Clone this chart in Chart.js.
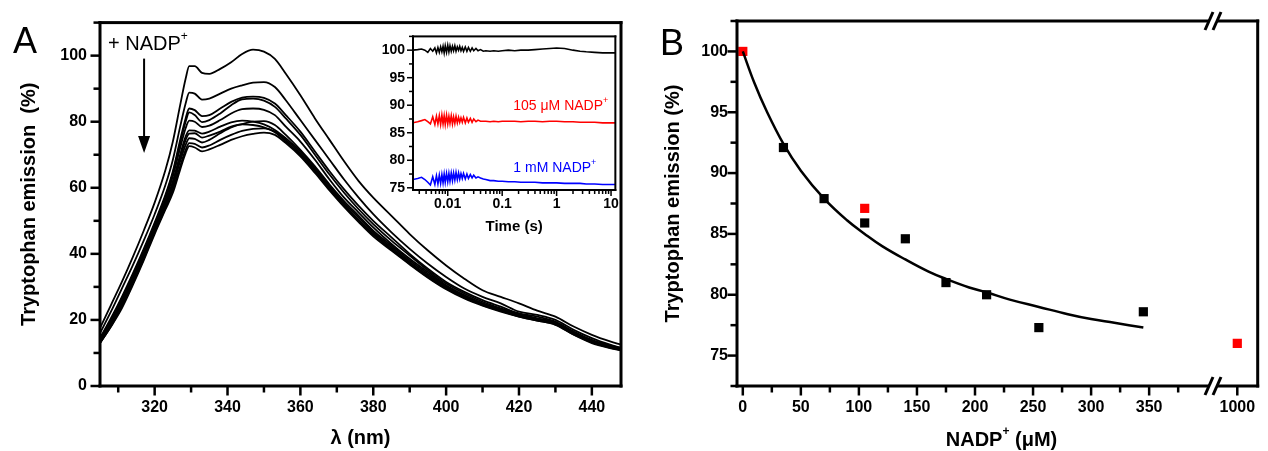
<!DOCTYPE html>
<html>
<head>
<meta charset="utf-8">
<script src="https://cdn.jsdelivr.net/npm/chart.js@4.4.1/dist/chart.umd.min.js"></script>
<style>
  html, body { margin: 0; padding: 0; background: #fff; }
  #wrap { position: relative; width: 1268px; height: 451px; overflow: hidden; background: #fff; }
  canvas { position: absolute; }
  #cA { left: 0; top: 0; }
  #cIn { left: 360px; top: 20px; }
  #cB { left: 634px; top: 0; }
  #cB2 { left: 1180px; top: 0; }
</style>
</head>
<body>
<div id="wrap">
  <canvas id="cA" width="634" height="451"></canvas>
  <canvas id="cIn" width="265" height="220"></canvas>
  <canvas id="cB" width="634" height="451"></canvas>
  <canvas id="cB2" width="88" height="451"></canvas>
</div>
<script>
// ---- panel A : emission spectra during NADP+ titration ----
const wavelength = [305, 308, 311, 314, 317, 320, 323, 325, 327, 328.5, 329.5, 331, 333, 335, 338, 341, 344, 347, 350, 353,
  356, 360, 364, 368, 372, 376, 380, 385, 390, 395, 400, 405, 410, 415, 420, 425, 430, 435, 440, 445, 448];

const spec1 = [17.5, 24.5, 31.5, 39, 47, 55.5, 65.5, 74, 85, 93, 96.8, 96.8, 94.8, 94.5, 96, 98, 100.5, 101.8, 101.2, 99,
  94.5, 88, 81, 74.5, 68, 62, 57, 51.5, 46, 41, 36.5, 32.5, 29, 27, 25, 22.8, 21, 18, 15.5, 13.5, 12.5];
const spec2 = [16, 22.5, 29.5, 36.5, 44, 52, 61, 68.5, 78.5, 85.5, 88.8, 88.5, 86.7, 87, 88.5, 90, 91, 91.8, 92, 90.5,
  86.5, 80.5, 74.5, 68.5, 62.5, 57, 52, 46.5, 41.5, 37, 33, 29.5, 27, 25, 22.5, 21.5, 20, 17, 14.5, 12.5, 11.5];
const spec3 = [14.5, 20.5, 27, 34, 41.5, 49.5, 58, 65, 74.5, 81, 84, 83.5, 81.7, 82, 84, 86, 87.3, 87.6, 87.2, 85.5,
  82, 77, 71, 65, 59.5, 54.5, 50, 45, 40, 35.5, 31.5, 28.5, 26, 24, 22, 21, 19.5, 16.5, 14, 12.3, 11.5];
const spec4 = [14, 20, 26.5, 33.5, 41, 49, 57.5, 64.5, 73.5, 80, 82.8, 82, 79.9, 80.5, 82.5, 85, 86.8, 87, 86.4, 84.5,
  81, 76, 70, 64, 58.5, 53.5, 49, 44, 39.5, 35, 31, 28, 25.5, 23.5, 21.8, 20.5, 19.2, 16.2, 13.8, 12, 11.2];
const spec5 = [14, 19.5, 26, 33, 40.5, 48.5, 56.5, 63.5, 72, 78, 80.3, 80, 78.4, 78.8, 80.5, 82.5, 83.8, 84, 83.6, 82,
  78.5, 74, 68.5, 62.5, 57, 52.5, 48, 43, 38.5, 34.5, 30.5, 27.5, 25, 23.2, 21.5, 20.3, 19, 16, 13.6, 12, 11];
const spec6 = [13.5, 19, 25.5, 32.5, 40, 48, 55.5, 62, 70, 75.5, 77.4, 77.3, 76.4, 77, 78.5, 79.8, 80.3, 80, 79.2, 77.5,
  75, 71, 66, 60.5, 55.5, 51, 46.5, 42, 37.5, 33.5, 30, 27, 24.8, 23, 21.3, 20, 18.8, 15.8, 13.4, 11.8, 11];
const spec7 = [13.5, 19, 25, 32, 39.5, 47.5, 55, 61.5, 69, 74.5, 76.4, 76.5, 75.2, 75.8, 77, 78.5, 79.3, 80, 80.2, 79,
  76, 71.5, 66.5, 61, 56, 51.5, 47, 42.5, 38, 34, 30.3, 27.3, 25, 23.2, 21.5, 20.2, 19, 16, 13.5, 12, 11.2];
const spec8 = [13, 18.5, 24.5, 31.5, 39, 47, 54.5, 60.5, 68, 73, 75, 74.8, 73.7, 74.5, 76.5, 78.3, 79.2, 79, 78.3, 76.8,
  74, 70, 65, 59.5, 54.5, 50, 45.8, 41.3, 37, 33, 29.5, 26.7, 24.5, 22.7, 21, 19.8, 18.6, 15.6, 13.2, 11.6, 10.8];
const spec9 = [13, 18, 24, 31, 38.5, 46.5, 54, 59.5, 66.5, 71.5, 73.5, 73.3, 72.2, 72.8, 74.5, 76, 77.2, 77.8, 78, 77,
  74.5, 70.5, 65.5, 60, 55, 50.3, 46, 41.5, 37.2, 33.2, 29.7, 26.8, 24.6, 22.8, 21.2, 20, 18.8, 15.8, 13.3, 11.7, 11];
const spec10 = [13, 18, 23.5, 30.5, 38, 46, 53.5, 58.5, 65.5, 70.5, 72.6, 72.2, 71, 71.6, 73, 74.5, 75.6, 76.3, 76.7, 76,
  73.5, 69.5, 64.5, 59.2, 54.2, 49.6, 45.3, 41, 36.8, 32.8, 29.3, 26.5, 24.3, 22.5, 21, 19.8, 18.5, 15.5, 13, 11.5, 10.8];
const spectra = [spec1, spec2, spec3, spec4, spec5, spec6, spec7, spec8, spec9, spec10];

const xTicksA = [320, 340, 360, 380, 400, 420, 440];
const xMinorA = [310, 330, 350, 370, 390, 410, 430];
const yTicksA = [0, 20, 40, 60, 80, 100];
const yMinorA = [10, 30, 50, 70, 90, 110];

// ---- inset : stopped-flow traces ----
const timeS = [0.0023, 0.0028, 0.0033, 0.0038, 0.0043, 0.0048, 0.0053, 0.0058, 0.0062, 0.0066,
  0.007, 0.0074, 0.0078, 0.0082, 0.0086, 0.009, 0.0095, 0.01, 0.0105, 0.011,
  0.0116, 0.0122, 0.0128, 0.0135, 0.0142, 0.015, 0.0158, 0.0166, 0.0175, 0.0185,
  0.0195, 0.021, 0.0225, 0.024, 0.026, 0.028, 0.03, 0.033, 0.036, 0.04,
  0.045, 0.05, 0.06, 0.07, 0.085, 0.1, 0.13, 0.17, 0.22, 0.3,
  0.4, 0.55, 0.75, 1, 1.4, 2, 2.7, 3.5, 5, 7, 10, 12];
const traceNone = [100.0, 100.1, 100.2, 100.0, 99.6, 100.3, 99.8, 100.4, 99.5, 100.5,
  99.6, 100.6, 99.7, 100.7, 99.5, 100.8, 99.6, 100.9, 99.7, 100.8,
  99.8, 100.7, 99.9, 100.8, 99.8, 100.6, 100.0, 100.7, 99.9, 100.5,
  99.8, 100.6, 99.8, 100.5, 99.8, 100.4, 99.9, 100.3, 99.9, 100.1,
  99.8, 99.9, 99.8, 99.9, 99.8, 99.9, 100.0, 99.9, 100.0, 100.0,
  100.1, 100.2, 100.3, 100.4, 100.3, 100.0, 99.8, 99.7, 99.6, 99.5, 99.5, 99.5];
const trace105 = [86.8, 87.0, 87.2, 87.4, 87.0, 86.6, 87.9, 86.5, 88.0, 86.6,
  88.1, 86.5, 88.2, 86.6, 88.1, 86.5, 88.2, 86.6, 88.0, 86.7,
  88.1, 86.6, 87.9, 86.7, 88.0, 86.8, 87.8, 86.9, 87.7, 86.9,
  87.8, 86.8, 87.7, 86.9, 87.6, 86.9, 87.5, 87.0, 87.3, 87.1,
  87.1, 87.1, 87.0, 87.1, 87.0, 87.1, 87.1, 87.1, 87.0, 87.1,
  87.1, 87.0, 87.1, 87.1, 87.0, 87.0, 86.9, 86.9, 86.9, 86.8, 86.8, 86.8];
const trace1mM = [76.5, 76.7, 76.9, 76.5, 76.0, 75.5, 77.0, 75.6, 77.2, 75.7,
  77.3, 75.8, 77.4, 75.9, 77.5, 76.0, 77.6, 76.1, 77.6, 76.2,
  77.7, 76.3, 77.7, 76.4, 77.8, 76.5, 77.7, 76.6, 77.6, 76.7,
  77.6, 76.6, 77.5, 76.7, 77.4, 76.8, 77.3, 76.8, 77.0, 76.8,
  76.6, 76.5, 76.3, 76.3, 76.2, 76.2, 76.1, 76.1, 76.0, 76.0,
  76.0, 75.9, 75.9, 75.9, 75.8, 75.8, 75.8, 75.7, 75.7, 75.6, 75.6, 75.6];
const xTicksIn = [0.01, 0.1, 1, 10];
const xMinorIn = [0.003, 0.004, 0.005, 0.006, 0.007, 0.008, 0.009, 0.02, 0.03, 0.04, 0.05, 0.06, 0.07, 0.08, 0.09,
  0.2, 0.3, 0.4, 0.5, 0.6, 0.7, 0.8, 0.9, 2, 3, 4, 5, 6, 7, 8, 9];
const yTicksIn = [75, 80, 85, 90, 95, 100];
const yMinorIn = [77.5, 82.5, 87.5, 92.5, 97.5, 102.5];

// ---- panel B : titration ----
const nadpConc = [35, 70, 105, 140, 175, 210, 255, 345];
const emission = [92.1, 87.9, 85.9, 84.6, 81.0, 80.0, 77.3, 78.6];
const refConc = [0, 105, 1000];
const refEmission = [100.0, 87.1, 76.0];
const fitConc = [0, 10, 20, 35, 50, 70, 90, 105, 120, 140, 160, 175, 195, 210, 230, 255, 280, 300, 320, 345];
const fitEmission = [100, 97.4, 95.2, 92.4, 90.2, 87.9, 86.1, 85.0, 84.0, 82.9, 81.9, 81.3, 80.6, 80.2, 79.6, 79.0, 78.4, 78.0, 77.7, 77.3];
const xTicksB = [0, 50, 100, 150, 200, 250, 300, 350];
const xMinorB = [25, 75, 125, 175, 225, 275, 325, 375];
const xTicksBreak = [1000];
const yTicksB = [75, 80, 85, 90, 95, 100];
const yMinorB = [72.5, 77.5, 82.5, 87.5, 92.5, 97.5, 102.5];

const FONT = '"Liberation Sans", Arial, Helvetica, sans-serif';
Chart.defaults.font.family = FONT;
Chart.defaults.color = '#000';
Chart.defaults.animation = false;

function pts(xs, ys) { return xs.map((x, i) => ({ x: x, y: ys[i] })); }

// text with a raised part, e.g. NADP + superscript
function richText(ctx, parts, x, y, size, weight, align, color) {
  ctx.save();
  ctx.fillStyle = color || '#000';
  ctx.textBaseline = 'middle';
  ctx.textAlign = 'left';
  const fontFor = sup => `${weight} ${sup ? Math.round(size * 0.62) : size}px ${FONT}`;
  let total = 0;
  for (const [t, sup] of parts) { ctx.font = fontFor(sup); total += ctx.measureText(t).width; }
  let cx = align === 'center' ? x - total / 2 : align === 'right' ? x - total : x;
  for (const [t, sup] of parts) {
    ctx.font = fontFor(sup);
    ctx.fillText(t, cx, sup ? y - size * 0.4 : y);
    cx += ctx.measureText(t).width;
  }
  ctx.restore();
}

// box frame round the plot area (optionally open on one side) and outward tick marks
function frame(cfg) {
  return {
    id: 'frame',
    beforeDatasetsDraw(chart) {
      if (!cfg.fillArea) return;
      const a = chart.chartArea;
      chart.ctx.save();
      chart.ctx.fillStyle = '#fff';
      chart.ctx.fillRect(a.left, a.top, a.right - a.left, a.bottom - a.top);
      chart.ctx.restore();
    },
    afterDraw(chart) {
      const { ctx, chartArea: a } = chart;
      const w = cfg.width;
      ctx.save();
      ctx.fillStyle = '#000';
      const L = a.left - w / 2, R = a.right - w / 2, T = a.top - w / 2, B = a.bottom - w / 2;
      ctx.fillRect(L, T, R - L + w, w);               // top
      ctx.fillRect(L, B, R - L + w, w);               // bottom
      if (cfg.open !== 'left') ctx.fillRect(L, T, w, B - T + w);
      if (cfg.open !== 'right') ctx.fillRect(R, T, w, B - T + w);
      const tw = cfg.tickWidth;
      (cfg.marks || []).forEach(m => {
        const s = chart.scales[m.id];
        const len = m.minor ? cfg.minorLen : cfg.majorLen;
        m.values.forEach(v => {
          const p = s.getPixelForValue(v);
          if (s.isHorizontal()) ctx.fillRect(p - tw / 2, a.bottom, tw, len + w / 2);
          else ctx.fillRect(a.left - len - w / 2, p - tw / 2, len + w / 2, tw);
        });
      });
      ctx.restore();
    }
  };
}

function fixedTicks(list) { return s => { s.ticks = list.map(v => ({ value: v })); }; }
const tickFont = size => ({ size: size, weight: 'bold' });
const plainLabel = v => String(v);
const hiddenGrid = { display: false, drawTicks: false };

// ---------- panel A ----------
const notesA = {
  id: 'notesA',
  afterDraw(chart) {
    const { ctx, scales: { x, y } } = chart;
    ctx.save();
    ctx.fillStyle = '#000';
    ctx.font = `36px ${FONT}`;
    ctx.textBaseline = 'alphabetic';
    ctx.fillText('A', 13, 53);
    richText(ctx, [['+ NADP', false], ['+', true]], x.getPixelForValue(307.2), y.getPixelForValue(103.3), 20, 'normal', 'left');
    const ax = x.getPixelForValue(317.1);
    const y0 = y.getPixelForValue(99.1);
    const y1 = y.getPixelForValue(70.5);
    ctx.fillRect(ax - 1, y0, 2, y1 - 14 - y0);
    ctx.beginPath(); ctx.moveTo(ax - 6, y1 - 17); ctx.lineTo(ax + 6, y1 - 17); ctx.lineTo(ax, y1); ctx.closePath(); ctx.fill();
    ctx.restore();
  }
};

new Chart(document.getElementById('cA'), {
  type: 'scatter',
  data: {
    datasets: spectra.map(s => ({
      data: pts(wavelength, s), showLine: true, borderColor: '#000', borderWidth: 1.8,
      pointRadius: 0, cubicInterpolationMode: 'monotone', fill: false
    }))
  },
  options: {
    responsive: false, animation: false,
    layout: { autoPadding: false, padding: { left: 0, right: 13, top: 21, bottom: 0 } },
    plugins: { legend: { display: false }, tooltip: { enabled: false } },
    scales: {
      x: {
        type: 'linear', min: 305, max: 448,
        afterFit: s => { s.height = 65; }, afterBuildTicks: fixedTicks(xTicksA),
        grid: hiddenGrid, border: { display: false },
        ticks: { padding: 12, font: tickFont(16), maxRotation: 0, autoSkip: false, callback: plainLabel },
        title: { display: true, text: 'λ (nm)', font: { size: 20, weight: 'bold' }, padding: { top: 0, bottom: 1 } }
      },
      y: {
        min: 0, max: 110,
        afterFit: s => { s.width = 100; }, afterBuildTicks: fixedTicks(yTicksA),
        grid: hiddenGrid, border: { display: false },
        ticks: { padding: 13, font: tickFont(16), autoSkip: false, callback: plainLabel },
        title: { display: true, text: 'Tryptophan emission  (%)', font: { size: 20, weight: 'bold' }, padding: { top: 17, bottom: 0 } }
      }
    }
  },
  plugins: [frame({ width: 3, tickWidth: 2.5, majorLen: 8, minorLen: 5, marks: [
    { id: 'x', values: xTicksA }, { id: 'x', values: xMinorA, minor: true },
    { id: 'y', values: yTicksA }, { id: 'y', values: yMinorA, minor: true }] }), notesA]
});

// ---------- inset ----------
const notesIn = {
  id: 'notesIn',
  afterDraw(chart) {
    const { ctx, scales: { x, y } } = chart;
    richText(ctx, [['105 μM NADP', false], ['+', true]], x.getPixelForValue(0.16), y.getPixelForValue(89.8), 14, 'normal', 'left', '#ff0000');
    richText(ctx, [['1 mM NADP', false], ['+', true]], x.getPixelForValue(0.16), y.getPixelForValue(78.6), 14, 'normal', 'left', '#0000ff');
  }
};

const traceStyle = c => ({ showLine: true, borderColor: c, borderWidth: 1.6, pointRadius: 0, tension: 0, fill: false });

new Chart(document.getElementById('cIn'), {
  type: 'scatter',
  data: {
    datasets: [
      Object.assign({ data: pts(timeS, traceNone) }, traceStyle('#000000')),
      Object.assign({ data: pts(timeS, trace105) }, traceStyle('#ff0000')),
      Object.assign({ data: pts(timeS, trace1mM) }, traceStyle('#0000ff'))
    ]
  },
  options: {
    responsive: false, animation: false,
    layout: { autoPadding: false, padding: { left: 0, right: 8, top: 14, bottom: 0 } },
    plugins: { legend: { display: false }, tooltip: { enabled: false } },
    scales: {
      x: {
        type: 'logarithmic', min: 0.0023, max: 12,
        afterFit: s => { s.height = 50; }, afterBuildTicks: fixedTicks(xTicksIn),
        grid: hiddenGrid, border: { display: false },
        ticks: { padding: 6, font: tickFont(14), maxRotation: 0, autoSkip: false, callback: plainLabel },
        title: { display: true, text: 'Time (s)', font: { size: 15, weight: 'bold' }, padding: { top: 0, bottom: 4 } }
      },
      y: {
        min: 74.6, max: 102.5,
        afterFit: s => { s.width = 53; }, afterBuildTicks: fixedTicks(yTicksIn),
        grid: hiddenGrid, border: { display: false },
        ticks: { padding: 8, font: tickFont(14), autoSkip: false, callback: plainLabel }
      }
    }
  },
  plugins: [frame({ width: 2, tickWidth: 1.5, majorLen: 5, minorLen: 3, fillArea: true, marks: [
    { id: 'x', values: xTicksIn }, { id: 'x', values: xMinorIn, minor: true },
    { id: 'y', values: yTicksIn }, { id: 'y', values: yMinorIn, minor: true }] }), notesIn]
});

// ---------- panel B, main segment (0 - 405 µM) ----------
const notesB = {
  id: 'notesB',
  afterDraw(chart) {
    const { ctx, chartArea: a } = chart;
    ctx.save();
    ctx.fillStyle = '#000';
    ctx.font = `36px ${FONT}`;
    ctx.textBaseline = 'alphabetic';
    ctx.fillText('B', 26, 55);
    ctx.restore();
    // title centred under the whole (broken) axis
    richText(ctx, [['NADP', false], ['+', true], [' (μM)', false]], (a.left + chart.width - 2) / 2, 440, 20, 'bold', 'center');
  }
};

const squares = c => ({ pointStyle: 'rect', pointRadius: 6.5, pointBackgroundColor: c, pointBorderColor: c, pointBorderWidth: 0, showLine: false });
const refPoints = pts(refConc, refEmission);

new Chart(document.getElementById('cB'), {
  type: 'scatter',
  data: {
    datasets: [
      { data: pts(fitConc, fitEmission), showLine: true, borderColor: '#000', borderWidth: 2.5, pointRadius: 0, tension: 0.4, fill: false },
      Object.assign({ data: pts(nadpConc, emission) }, squares('#000000')),
      Object.assign({ data: refPoints.filter(p => p.x < 500) }, squares('#ff0000'))
    ]
  },
  options: {
    responsive: false, animation: false,
    layout: { autoPadding: false, padding: { left: 0, right: 55, top: 21, bottom: 0 } },
    plugins: { legend: { display: false }, tooltip: { enabled: false } },
    scales: {
      x: {
        type: 'linear', min: -5, max: 405,
        afterFit: s => { s.height = 65; }, afterBuildTicks: fixedTicks(xTicksB),
        grid: hiddenGrid, border: { display: false },
        ticks: { padding: 12, font: tickFont(16), maxRotation: 0, autoSkip: false, callback: plainLabel }
      },
      y: {
        min: 72.5, max: 102.5,
        afterFit: s => { s.width = 103; }, afterBuildTicks: fixedTicks(yTicksB),
        grid: hiddenGrid, border: { display: false },
        ticks: { padding: 9, font: tickFont(16), autoSkip: false, callback: plainLabel },
        title: { display: true, text: 'Tryptophan emission (%)', font: { size: 20, weight: 'bold' }, padding: { top: 27, bottom: 0 } }
      }
    }
  },
  plugins: [frame({ width: 3, tickWidth: 2.5, majorLen: 8, minorLen: 5, open: 'right', marks: [
    { id: 'x', values: xTicksB }, { id: 'x', values: xMinorB, minor: true },
    { id: 'y', values: yTicksB }, { id: 'y', values: yMinorB, minor: true }] }), notesB]
});

// ---------- panel B, segment after the axis break (1000 µM) ----------
const breakMarks = {
  id: 'breakMarks',
  afterDraw(chart) {
    const { ctx, chartArea: a } = chart;
    const xb = a.left;
    ctx.save();
    ctx.fillStyle = '#fff';
    ctx.fillRect(xb - 4, a.top - 3, 8, 6);
    ctx.fillRect(xb - 4, a.bottom - 3, 8, 6);
    ctx.strokeStyle = '#000';
    ctx.lineWidth = 3;
    [a.top, a.bottom].forEach(yy => {
      [-4, 4].forEach(dx => {
        ctx.beginPath();
        ctx.moveTo(xb + dx - 4, yy + 9);
        ctx.lineTo(xb + dx + 4, yy - 9);
        ctx.stroke();
      });
    });
    ctx.restore();
  }
};

new Chart(document.getElementById('cB2'), {
  type: 'scatter',
  data: {
    datasets: [Object.assign({ data: refPoints.filter(p => p.x >= 500) }, squares('#ff0000'))]
  },
  options: {
    responsive: false, animation: false,
    layout: { autoPadding: false, padding: { left: 33, right: 2, top: 21, bottom: 0 } },
    plugins: { legend: { display: false }, tooltip: { enabled: false } },
    scales: {
      x: {
        type: 'linear', min: 975, max: 1021,
        afterFit: s => { s.height = 65; }, afterBuildTicks: fixedTicks(xTicksBreak),
        grid: hiddenGrid, border: { display: false },
        ticks: { padding: 12, font: tickFont(16), maxRotation: 0, autoSkip: false, callback: plainLabel }
      },
      y: { display: false, min: 72.5, max: 102.5 }
    }
  },
  plugins: [frame({ width: 3, tickWidth: 2.5, majorLen: 8, minorLen: 5, open: 'left', marks: [
    { id: 'x', values: xTicksBreak }] }), breakMarks]
});
</script>
</body>
</html>
